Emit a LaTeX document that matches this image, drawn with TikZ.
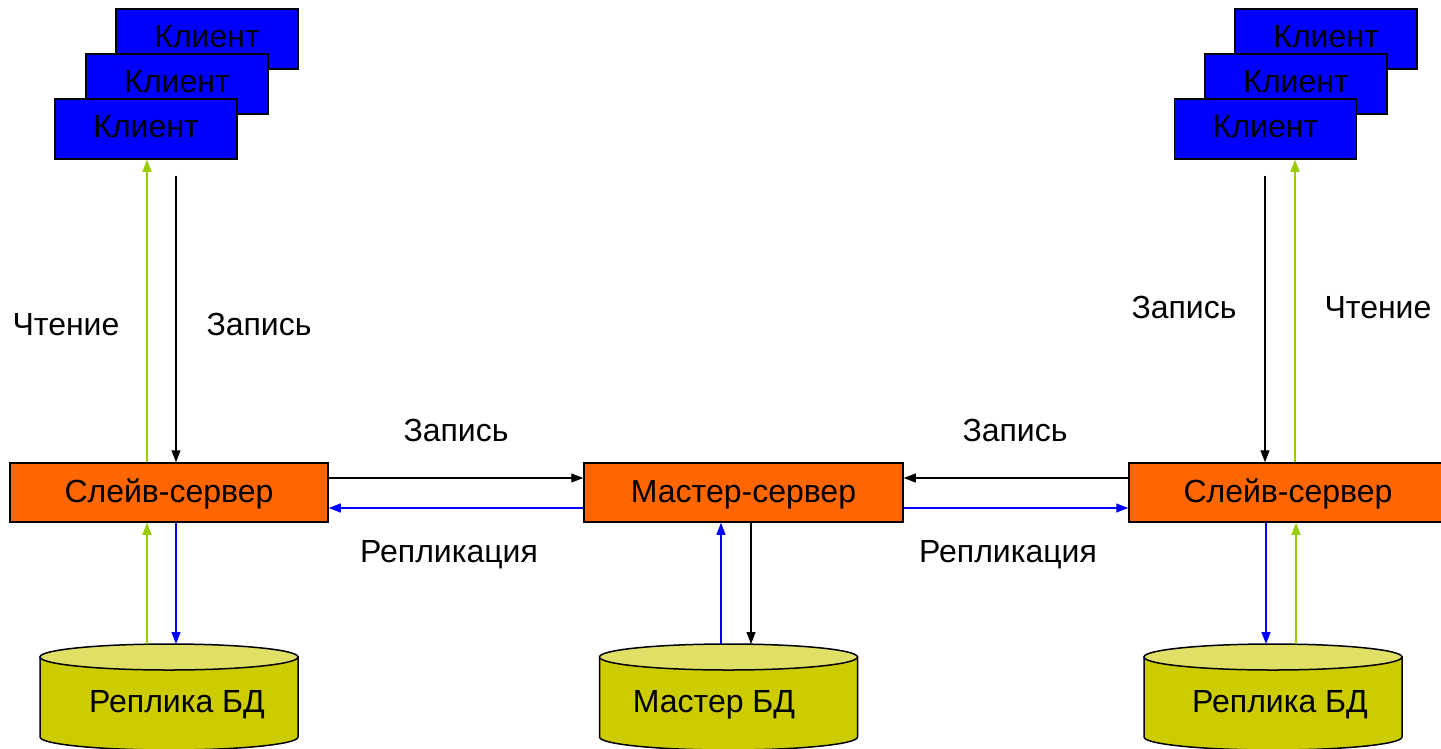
\documentclass[tikz,border=0pt]{standalone}
\usepackage{fontspec}
\setmainfont{Liberation Sans}
\usetikzlibrary{arrows.meta}
\definecolor{cblue}{HTML}{0000FF}
\definecolor{corange}{HTML}{FF6600}
\definecolor{cyl}{HTML}{CCCC00}
\definecolor{cyltop}{HTML}{E0E066}
\definecolor{cgreen}{HTML}{99CC00}
\begin{document}
\begin{tikzpicture}[x=1pt,y=-1pt,
  txt/.style={font=\fontsize{32}{36}\selectfont},
  client/.style={txt, draw=black, line width=1.5pt, fill=cblue, minimum width=182pt, minimum height=60pt, inner sep=0pt, text height=20pt, text depth=3pt},
  server/.style={txt, draw=black, line width=1.5pt, fill=corange, minimum width=318pt, minimum height=59pt, inner sep=0pt, text height=21pt, text depth=2pt},
  lbl/.style={txt, inner sep=0pt, anchor=base},
  arr/.style={line width=1.3pt, -{Triangle[length=12pt,width=9pt]}},
  wr/.style={arr, draw=black},
  rd/.style={arr, draw=cgreen},
  rp/.style={arr, draw=cblue},
  db/.pic={
    \path[fill=cyl, draw=black, line width=1.5pt] (-129pt,0pt) -- (-129pt,-80pt)
      arc[start angle=180, end angle=360, x radius=129pt, y radius=13pt] -- (129pt,0pt) -- cycle;
    \path[fill=cyltop, draw=black, line width=1.5pt] (0pt,0pt) ellipse [x radius=129pt, y radius=13pt];
    \coordinate (-top) at (0pt,13pt);
  }
]
\useasboundingbox (0,0) rectangle (1441,748);

% left clients
\node[client] (lc3) at (207,39) {Клиент};
\node[client] (lc2) at (177,84) {Клиент};
\node[client] (lc1) at (146,129) {Клиент};
% right clients
\node[client] (rc3) at (1326,39) {Клиент};
\node[client] (rc2) at (1296,84) {Клиент};
\node[client] (rc1) at (1265.5,129) {Клиент};

% servers
\node[server] (ls) at (169,492.5) {Слейв-сервер};
\node[server, minimum width=319pt] (ms) at (743.5,492.5) {Мастер-сервер};
\node[server] (rs) at (1288,492.5) {Слейв-сервер};

% databases
\pic (ldb) at (169,657) {db};
\pic (mdb) at (728.5,657) {db};
\pic (rdb) at (1273,657) {db};
\node[lbl] (ldbt) at (177,712) {Реплика БД};
\node[lbl] (mdbt) at (714,712) {Мастер БД};
\node[lbl] (rdbt) at (1280,712) {Реплика БД};

% labels
\node[lbl] (l1) at (66,335) {Чтение};
\node[lbl] (l2) at (259,335) {Запись};
\node[lbl] (l3) at (456,441) {Запись};
\node[lbl] (l4) at (449,562) {Репликация};
\node[lbl] (l5) at (1015,441) {Запись};
\node[lbl] (l6) at (1008,562) {Репликация};
\node[lbl] (l7) at (1184,318) {Запись};
\node[lbl] (l8) at (1378,318) {Чтение};

% left vertical connectors
\draw[rd] ([xshift=-22pt]ls.north) -- ([xshift=-22pt]ls.north |- lc1.south);
\draw[wr] ([xshift=7pt,yshift=-16pt]ls.north |- lc1.south) -- ([xshift=7pt]ls.north);
\draw[rd] ([xshift=-22pt]ls.south |- ldb-top) -- ([xshift=-22pt]ls.south);
\draw[rp] ([xshift=7pt]ls.south) -- ([xshift=7pt]ls.south |- ldb-top);

% horizontal connectors
\draw[wr] ([yshift=14.5pt]ls.east) -- ([yshift=14.5pt]ms.west);
\draw[rp] ([yshift=-15.5pt]ms.west) -- ([yshift=-15.5pt]ls.east);
\draw[wr] ([yshift=14.5pt]rs.west) -- ([yshift=14.5pt]ms.east);
\draw[rp] ([yshift=-15.5pt]ms.east) -- ([yshift=-15.5pt]rs.west);

% master vertical connectors
\draw[rp] ([xshift=-22.5pt]ms.south |- mdb-top) -- ([xshift=-22.5pt]ms.south);
\draw[wr] ([xshift=7.5pt]ms.south) -- ([xshift=7.5pt]ms.south |- mdb-top);

% right vertical connectors
\draw[wr] ([xshift=-23pt,yshift=-16pt]rs.north |- rc1.south) -- ([xshift=-23pt]rs.north);
\draw[rd] ([xshift=7pt]rs.north) -- ([xshift=7pt]rs.north |- rc1.south);
\draw[rp] ([xshift=-22pt]rs.south) -- ([xshift=-22pt]rs.south |- rdb-top);
\draw[rd] ([xshift=8pt]rs.south |- rdb-top) -- ([xshift=8pt]rs.south);
\end{tikzpicture}
\end{document}
